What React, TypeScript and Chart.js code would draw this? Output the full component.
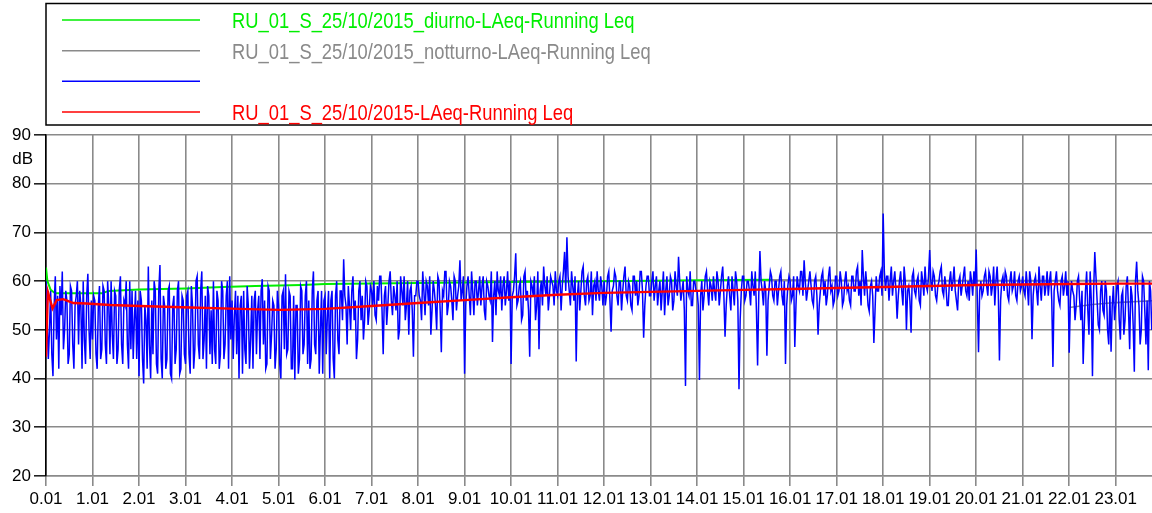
import React, { useEffect, useRef } from "react";
import { Chart, registerables } from "chart.js";

Chart.register(...registerables);

// ---------- data ----------
const HOUR_TICKS = [0, 1, 2, 3, 4, 5, 6, 7, 8, 9, 10, 11, 12, 13, 14, 15, 16, 17, 18, 19, 20, 21, 22, 23];
const HOUR_TICK_LABELS = HOUR_TICKS.map((h) => `${h}.01`);
const Y_TICKS = [20, 30, 40, 50, 60, 70, 80, 90];

const LEGEND_LABELS = [
  "RU_01_S_25/10/2015_diurno-LAeq-Running Leq",
  "RU_01_S_25/10/2015_notturno-LAeq-Running Leq",
  "",
  "RU_01_S_25/10/2015-LAeq-Running Leq",
];

// blue: LAeq short samples; BLUE_VALUES at t = i*0.05 h, BLUE_MID_VALUES at t = i*0.05 + 0.025 h
const BLUE_START = 0;
const BLUE_STEP = 0.05;
const BLUE_VALUES = [
  60, 44, 58, 40.5, 61, 57, 59, 62, 50, 56, 45, 58, 42, 57, 47, 55, 60, 43, 61.5, 44,
  48, 56, 42, 59, 46, 58, 43, 55, 60, 44, 57, 46, 61, 43, 55, 47, 60, 58, 52, 44,
  40.5, 56, 39, 52, 63, 40, 45, 58, 41, 63.3, 40, 55, 44, 59, 40, 57, 46, 60, 42, 56,
  43, 58, 41, 55, 46, 61, 44, 62, 48, 42, 57, 54, 60, 43, 56, 45, 58, 47, 60, 61,
  56, 53, 45, 40, 57, 58, 43, 55, 48, 42, 58, 54, 44, 60.4, 56, 43, 58, 49, 55, 46,
  55, 40, 58, 61.4, 46, 57, 42, 39.8, 55, 44, 58, 47, 60, 56, 44, 62, 45, 58, 50, 41,
  57, 53, 40, 58, 40, 60, 45, 58, 64.5, 55, 59, 50, 61, 56, 48, 60, 57, 52, 59, 54,
  58, 60, 52, 56, 61, 45, 59, 55, 62, 53, 57, 60, 50, 58, 61, 55, 49, 59, 44.5, 57,
  60, 56, 62, 53, 59, 61, 54, 58, 50, 60, 45.4, 57, 62, 55, 59, 52, 60, 57, 64.3, 58,
  41, 59, 57, 62, 53, 60, 58, 55, 61, 52, 59, 56, 47.5, 60, 62, 57, 54, 61, 58, 56,
  43, 58, 65.7, 56, 60, 53, 62, 58, 44.5, 59, 61, 55, 46, 60, 63, 57, 54, 61, 59, 62,
  57, 61, 59, 66, 69, 58, 62, 56, 43.5, 60, 58, 63, 55, 61, 57, 53, 60, 62, 56, 59,
  60, 57, 62, 49.6, 59, 61, 55, 60, 58, 63, 56, 59, 54, 61, 60, 57, 62, 48.4, 59, 61,
  57, 62, 59, 55, 60, 58, 53, 61, 57, 60, 56, 59, 65, 56, 60, 38.5, 58, 62, 55, 60,
  58, 39.7, 60, 57, 62, 55, 59, 61, 56, 60, 58, 63, 48.6, 59, 57, 61, 55, 60, 37.8, 58,
  61, 57, 60, 55, 59, 62, 42.7, 66.2, 58, 60, 44.7, 59, 61, 56, 60, 58, 62, 55, 43, 59,
  60, 57, 46.5, 61, 58, 62, 64.3, 56, 60, 59, 55, 61, 49, 58, 62, 60, 57, 63, 59, 56,
  61, 58, 60, 56, 62, 59, 55, 61, 58, 63, 60, 66.4, 57, 59, 53.8, 60, 47.3, 61, 58, 62,
  73.9, 58, 61, 60, 57, 62, 52.3, 60, 58, 63, 50, 59, 49.4, 62, 57, 61, 55, 60, 63, 58,
  66.4, 58, 61, 56, 60, 63, 57, 59, 55, 62, 60, 58, 54, 61, 59, 63, 57, 56, 60, 62,
  66.5, 45.4, 60, 58, 62, 57, 61, 59, 55, 63, 43.7, 60, 58, 61, 56, 62, 59, 57, 60, 58,
  61, 57, 59, 62, 48.1, 60, 58, 63, 56, 61, 59, 57, 62, 42.4, 60, 58, 55, 61, 59, 57,
  45.3, 60, 57, 55, 61, 52, 43, 58, 54, 62, 40.5, 66, 56, 50, 60, 53, 58, 47, 45.5, 59,
  55, 60, 48, 58, 52, 61, 46, 57, 41.4, 64, 55, 50, 60, 47, 41.7, 58, 53,
];
const BLUE_MID_VALUES = [
  52, 50, 45, 55, 48, 42, 53, 46, 58, 43, 59, 47, 55, 60, 58, 42, 48, 57, 50, 56,
  57, 45, 55, 44, 59, 47, 60, 45, 49, 58, 43, 58, 47, 56, 60, 42, 46, 44, 58, 56,
  58, 44, 55, 42, 47, 56, 60, 43, 58, 44, 57, 42, 58, 41, 55, 43, 58, 41, 57, 45,
  57, 45, 59, 42, 60, 47, 58, 44, 57, 59, 45, 43, 46, 58, 42, 60, 44, 57, 42, 48,
  44, 58, 57, 55, 41, 46, 59, 42, 57, 56, 45, 57, 58, 47, 42, 59, 44, 56, 42, 58,
  43, 57, 46, 45, 58, 42, 57, 55, 41, 59, 45, 57, 43, 42, 58, 47, 56, 41, 58, 56,
  45, 58, 56, 44, 57, 48, 58, 52, 57, 47, 55, 58, 52, 44, 58, 52, 48, 60, 51, 59,
  55, 53, 59, 61, 54, 57, 51, 60, 56, 59, 54, 48, 61, 55, 52, 60, 58, 54, 57, 60,
  57, 52, 58, 60, 55, 49, 60, 55, 61, 54, 58, 62, 53, 60, 56, 61, 54, 59, 56, 61,
  55, 61, 53, 58, 60, 55, 61, 59, 54, 60, 57, 62, 57, 53, 58, 61, 59, 55, 62, 60,
  57, 61, 55, 59, 52, 61, 56, 54, 60, 57, 52, 62, 58, 55, 59, 61, 57, 60, 55, 58,
  60, 54, 62, 58, 61, 55, 59, 61, 57, 54, 62, 57, 60, 56, 62, 59, 56, 58, 61, 55,
  55, 61, 56, 58, 62, 57, 60, 54, 61, 57, 60, 55, 61, 57, 55, 62, 58, 55, 61, 57,
  60, 56, 61, 58, 54, 62, 58, 55, 61, 54, 62, 57, 60, 58, 54, 61, 57, 55, 60, 58,
  55, 57, 54, 61, 58, 60, 56, 58, 62, 55, 61, 57, 55, 61, 54, 58, 62, 56, 52, 61,
  56, 60, 58, 62, 57, 54, 57, 60, 55, 58, 56, 62, 57, 60, 55, 61, 57, 60, 55, 61,
  56, 61, 55, 59, 62, 57, 60, 58, 62, 56, 60, 57, 55, 61, 57, 55, 61, 58, 55, 61,
  57, 62, 55, 60, 58, 56, 61, 58, 62, 57, 55, 61, 62, 55, 59, 57, 54, 58, 61, 57,
  62, 61, 56, 63, 60, 58, 57, 62, 55, 60, 58, 56, 61, 58, 60, 56, 62, 57, 59, 61,
  60, 62, 57, 59, 62, 58, 61, 55, 60, 58, 63, 56, 60, 57, 61, 58, 60, 62, 57, 59,
  56, 58, 57, 61, 59, 62, 57, 63, 60, 58, 56, 61, 62, 57, 60, 58, 62, 56, 61, 59,
  58, 62, 55, 60, 57, 61, 55, 59, 61, 57, 62, 60, 56, 58, 62, 56, 60, 57, 62, 60,
  56, 58, 52, 60, 56, 58, 51, 62, 49, 56, 58, 61, 51, 58, 54, 60, 50, 57, 55, 52,
  59, 52, 57, 49, 59, 54, 59, 51, 60, 58, 47, 61, 54, 56, 60, 50,
];

// red: overall running Leq
const RED_TIMES = [0, 0.04, 0.14, 0.23, 0.37, 0.45, 0.59, 0.87, 1.38, 2.02, 3.1, 4.17, 5.03, 6, 7, 8, 9, 10, 11, 12, 13, 14, 15, 16, 17, 18, 19, 20, 21, 22, 23, 23.8];
const RED_VALUES = [44.5, 57.8, 54.4, 56.1, 56.3, 56.0, 55.5, 55.4, 55.1, 54.9, 54.6, 54.3, 54.1, 54.3, 54.9, 55.5, 56.1, 56.7, 57.2, 57.6, 57.8, 58.0, 58.2, 58.4, 58.6, 58.8, 59.0, 59.2, 59.3, 59.4, 59.5, 59.5];

// green: diurno running Leq
const GREEN_TIMES = [0, 0.03, 0.1, 0.2, 1.2, 1.35, 2, 3, 3.8, 4.5, 5.5, 6, 8, 10, 12, 14, 15.6];
const GREEN_VALUES = [62.8, 60.0, 58.2, 57.5, 57.5, 58.0, 58.3, 58.5, 58.8, 59.0, 59.2, 59.4, 59.6, 59.8, 60.0, 60.2, 60.3];

// gray: notturno running Leq (two traces)
const GRAY_A_TIMES = [15.6, 18, 23.8];
const GRAY_A_VALUES = [60.3, 60.1, 60.1];
const GRAY_B_TIMES = [22.0, 22.5, 23.0, 23.8];
const GRAY_B_VALUES = [54.6, 55.2, 55.6, 56.0];

const X_MIN = 0;
const X_MAX = 23.78;

const GREEN = "#00ee00";
const GRAY = "#8a8a8a";
const BLUE = "#0000ff";
const RED = "#ff0000";
const FONT = '"Liberation Sans", Arial, Helvetica, sans-serif';

const toPoints = (xs: number[], ys: number[]) => ys.map((y, i) => ({ x: xs[i], y }));
const bluePoints: { x: number; y: number }[] = [];
BLUE_VALUES.forEach((y, i) => {
  const t = BLUE_START + i * BLUE_STEP;
  bluePoints.push({ x: t, y });
  if (i < BLUE_MID_VALUES.length) bluePoints.push({ x: t + BLUE_STEP / 2, y: BLUE_MID_VALUES[i] });
});

const legendPlugin = {
  id: "boxLegend",
  afterDraw(chart: any) {
    const ctx = chart.ctx as CanvasRenderingContext2D;
    ctx.save();
    ctx.strokeStyle = "#000";
    ctx.lineWidth = 1.5;
    ctx.strokeRect(46, 3.5, 1200, 121.5);
    const colors = [GREEN, GRAY, BLUE, RED];
    const rowsY = [20, 50.7, 81.3, 112];
    colors.forEach((c, i) => {
      const y = rowsY[i];
      ctx.strokeStyle = c;
      ctx.lineWidth = 1.5;
      ctx.beginPath();
      ctx.moveTo(62, y);
      ctx.lineTo(200, y);
      ctx.stroke();
      const txt = LEGEND_LABELS[i];
      if (txt) {
        ctx.save();
        ctx.translate(232, y + 8);
        ctx.scale(0.835, 1);
        ctx.fillStyle = c;
        ctx.font = `22px ${FONT}`;
        ctx.textBaseline = "alphabetic";
        ctx.textAlign = "left";
        ctx.fillText(txt, 0, 0);
        ctx.restore();
      }
    });
    const yScale = chart.scales.y;
    ctx.fillStyle = "#000";
    ctx.font = `17px ${FONT}`;
    ctx.textAlign = "right";
    ctx.textBaseline = "middle";
    ctx.fillText("dB", 33, yScale.getPixelForValue(85));
    ctx.restore();
  },
};

const bgPlugin = {
  id: "whiteBg",
  beforeDraw(chart: any) {
    const ctx = chart.ctx as CanvasRenderingContext2D;
    ctx.save();
    ctx.fillStyle = "#fff";
    ctx.fillRect(0, 0, chart.width, chart.height);
    ctx.restore();
  },
};

export default function App() {
  const ref = useRef<HTMLCanvasElement | null>(null);

  useEffect(() => {
    if (!ref.current) return;
    const chart = new Chart(ref.current, {
      type: "line",
      data: {
        datasets: [
          { label: LEGEND_LABELS[3], data: toPoints(RED_TIMES, RED_VALUES), borderColor: RED, borderWidth: 2.4, pointRadius: 0, tension: 0 },
          { label: "blue", data: bluePoints, borderColor: BLUE, borderWidth: 1.5, pointRadius: 0, tension: 0 },
          { label: LEGEND_LABELS[1], data: toPoints(GRAY_A_TIMES, GRAY_A_VALUES), borderColor: GRAY, borderWidth: 1.6, pointRadius: 0, tension: 0 },
          { label: LEGEND_LABELS[1] + " (2)", data: toPoints(GRAY_B_TIMES, GRAY_B_VALUES), borderColor: GRAY, borderWidth: 1.6, pointRadius: 0, tension: 0 },
          { label: LEGEND_LABELS[0], data: toPoints(GREEN_TIMES, GREEN_VALUES), borderColor: GREEN, borderWidth: 2, pointRadius: 0, tension: 0 },
        ],
      },
      options: {
        animation: false,
        responsive: false,
        maintainAspectRatio: false,
        devicePixelRatio: 1,
        events: [],
        layout: { padding: { top: 135, right: 0, bottom: 0, left: 0 } },
        plugins: {
          legend: { display: false },
          tooltip: { enabled: false },
          title: { display: false },
        },
        scales: {
          x: {
            type: "linear",
            min: X_MIN,
            max: X_MAX,
            offset: false,
            afterFit: (s: any) => {
              s.height = 37;
            },
            afterBuildTicks: (s: any) => {
              s.ticks = HOUR_TICKS.map((v) => ({ value: v }));
            },
            ticks: {
              autoSkip: false,
              maxRotation: 0,
              color: "#000",
              padding: 3,
              font: { family: FONT, size: 17 },
              callback: (v: any) => {
                const i = HOUR_TICKS.indexOf(Number(v));
                return i >= 0 ? HOUR_TICK_LABELS[i] : "";
              },
            },
            grid: { color: GRAY, lineWidth: 1.6, tickLength: 10, tickColor: GRAY },
            border: { display: true, color: GRAY, width: 1.6 },
          },
          y: {
            type: "linear",
            min: 20,
            max: 90,
            afterFit: (s: any) => {
              s.width = 46;
            },
            afterBuildTicks: (s: any) => {
              s.ticks = Y_TICKS.map((v) => ({ value: v }));
            },
            ticks: {
              color: "#000",
              padding: 3,
              font: { family: FONT, size: 17 },
              callback: (v: any) => String(v),
            },
            grid: { color: GRAY, lineWidth: 1.6, tickLength: 12, tickColor: "#222" },
            border: { display: true, color: "#000", width: 1.6 },
          },
        },
      },
      plugins: [bgPlugin, legendPlugin],
    });
    return () => chart.destroy();
  }, []);

  return (
    <div style={{ position: "absolute", left: 0, top: 0, width: 1152, height: 513, overflow: "hidden", background: "#fff" }}>
      <canvas ref={ref} width={1152} height={513} style={{ display: "block", width: 1152, height: 513 }} />
    </div>
  );
}
